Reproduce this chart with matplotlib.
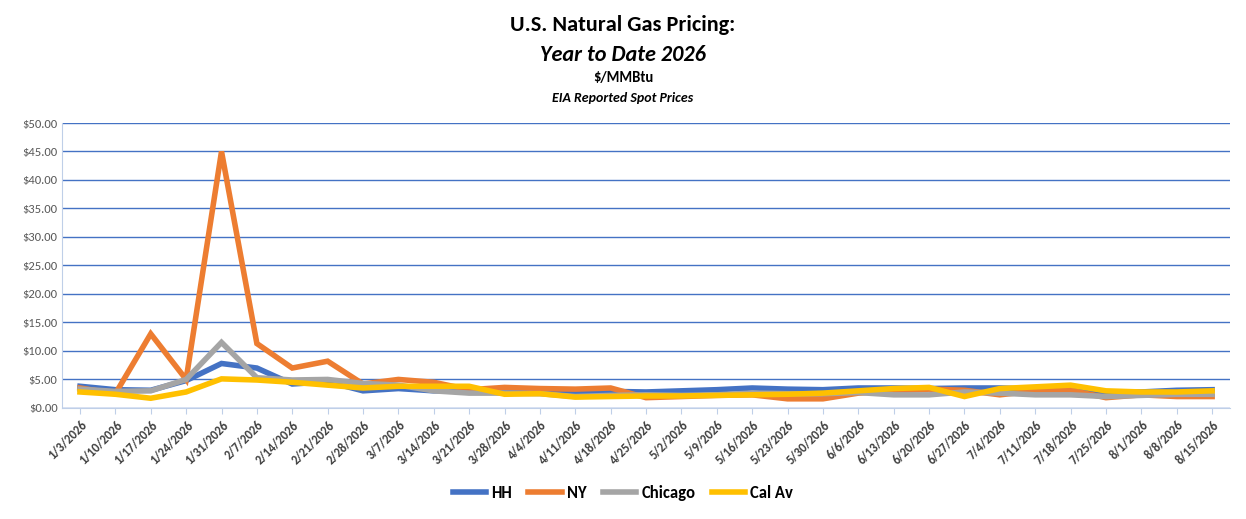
import numpy as np
import pandas as pd
import matplotlib
matplotlib.use("Agg")
import matplotlib.pyplot as plt
from matplotlib.ticker import FuncFormatter

dates = pd.date_range('2026-01-03', periods=33, freq='7D')
date_labels = [f"{d.month}/{d.day}/{d.year}" for d in dates]

hh = [3.8, 3.2, 3.1, 4.8, 7.8, 7.0, 4.2, 4.6, 3.0, 3.4, 3.0, 3.1, 3.0, 3.0, 2.9, 2.9, 2.8,
      3.0, 3.2, 3.5, 3.3, 3.2, 3.5, 3.5, 3.4, 3.5, 3.5, 3.3, 3.2, 2.8, 2.8, 3.1, 3.2]
ny = [3.5, 2.5, 13.0, 5.0, 45.0, 11.3, 7.0, 8.2, 4.2, 5.0, 4.5, 3.2, 3.6, 3.4, 3.3, 3.5, 1.8,
      2.0, 2.2, 2.3, 1.6, 1.6, 2.6, 3.0, 3.3, 3.1, 2.3, 3.0, 3.1, 1.8, 2.3, 2.0, 2.0]
chicago = [3.3, 2.9, 3.0, 5.0, 11.5, 5.3, 4.9, 5.0, 4.3, 4.0, 3.0, 2.6, 2.6, 2.5, 2.0, 2.2, 2.3,
           2.2, 2.3, 2.6, 2.5, 2.5, 2.7, 2.3, 2.3, 2.8, 2.6, 2.3, 2.3, 2.0, 2.2, 2.4, 2.4]
cal_av = [2.8, 2.4, 1.7, 2.8, 5.1, 4.9, 4.5, 4.0, 3.5, 3.8, 3.8, 3.8, 2.4, 2.5, 1.9, 2.0, 2.1,
          2.1, 2.2, 2.3, 2.4, 2.6, 3.0, 3.4, 3.6, 2.0, 3.4, 3.7, 4.0, 3.0, 2.8, 2.8, 3.0]

plt.rcParams['font.family'] = ['Calibri', 'Carlito', 'Liberation Sans', 'DejaVu Sans']

fig = plt.figure(figsize=(12.46, 5.19), dpi=100)
ax = fig.add_axes([0.05, 0.214, 0.937, 0.549])

x = np.arange(len(dates))
series = [('HH', hh, '#4472C4'), ('NY', ny, '#ED7D31'),
          ('Chicago', chicago, '#A5A5A5'), ('Cal Av', cal_av, '#FFC000')]
for name, vals, col in series:
    ax.plot(x, vals, color=col, linewidth=4, label=name, solid_joinstyle='miter')

ax.set_ylim(0, 50)
ax.set_yticks(np.arange(0, 51, 5))
ax.yaxis.set_major_formatter(FuncFormatter(lambda v, p: f"${v:.2f}"))
ax.set_xlim(-0.5, len(dates) - 0.5)
ax.set_xticks(x)
ax.set_xticklabels(date_labels, rotation=45, ha='right', rotation_mode='anchor',
                   fontsize=9, fontweight='bold', color='#404040')
ax.tick_params(axis='y', labelsize=9, colors='#595959', length=0)
ax.tick_params(axis='x', length=4, color='#BFCFE8')
ax.grid(axis='y', color='#4472C4', linewidth=1)
ax.set_axisbelow(True)
for s in ['top', 'right']:
    ax.spines[s].set_visible(False)
for s in ['left', 'bottom']:
    ax.spines[s].set_color('#BFCFE8')

fig.text(0.5, 0.952, 'U.S. Natural Gas Pricing:', ha='center', va='center', fontsize=16, fontweight='bold')
fig.text(0.5, 0.894, 'Year to Date 2026', ha='center', va='center', fontsize=16,
         fontweight='bold', style='italic')
fig.text(0.5, 0.850, '$/MMBtu', ha='center', va='center', fontsize=10.5, fontweight='bold')
fig.text(0.5, 0.811, 'EIA Reported Spot Prices', ha='center', va='center', fontsize=10,
         fontweight='bold', style='italic')

fig.legend(loc='center', bbox_to_anchor=(0.5, 0.05), ncol=4, frameon=False,
           prop={'size': 12, 'weight': 'bold'}, handlelength=2.0, handletextpad=0.3,
           columnspacing=1.0)

fig.savefig('out.png', dpi=100)
